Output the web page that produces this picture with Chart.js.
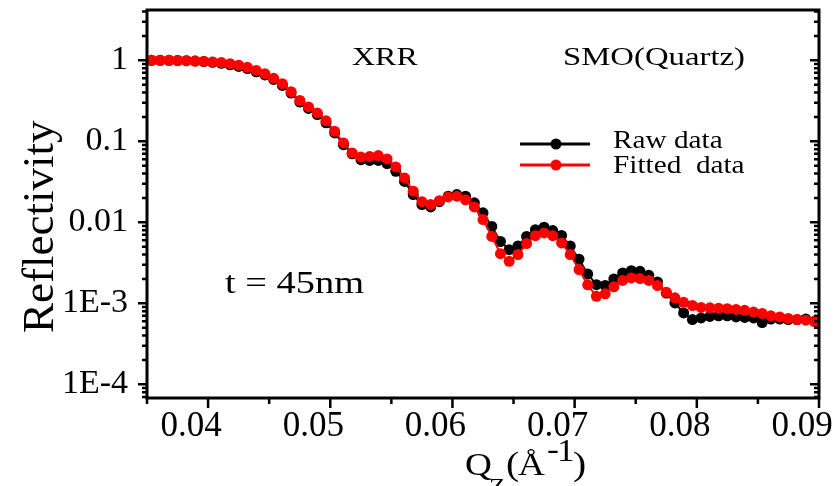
<!DOCTYPE html>
<html>
<head>
<meta charset="utf-8">
<script src="https://cdn.jsdelivr.net/npm/chart.js@4.4.1/dist/chart.umd.min.js"></script>
<style>
  html, body { margin: 0; padding: 0; background: #fff; }
  canvas { display: block; }
</style>
</head>
<body>
<canvas id="xrrChart" width="839" height="486"></canvas>
<script>
// XRR reflectivity: raw vs fitted

const qValues = [0.03537, 0.03608, 0.03680, 0.03751, 0.03823, 0.03894, 0.03965, 0.04037, 0.04108, 0.04180,
  0.04251, 0.04322, 0.04394, 0.04465, 0.04537, 0.04608, 0.04679, 0.04751, 0.04822, 0.04894,
  0.04965, 0.05036, 0.05108, 0.05179, 0.05251, 0.05322, 0.05393, 0.05465, 0.05536, 0.05608,
  0.05679, 0.05750, 0.05822, 0.05893, 0.05965, 0.06036, 0.06107, 0.06179, 0.06250, 0.06322,
  0.06393, 0.06464, 0.06536, 0.06607, 0.06679, 0.06750, 0.06821, 0.06893, 0.06964, 0.07036,
  0.07107, 0.07178, 0.07250, 0.07321, 0.07393, 0.07464, 0.07535, 0.07607, 0.07678, 0.07750,
  0.07821, 0.07892, 0.07964, 0.08035, 0.08107, 0.08178, 0.08249, 0.08321, 0.08392, 0.08464,
  0.08535, 0.08606, 0.08678, 0.08749, 0.08821, 0.08892, 0.08963];

const rawData = [1.0, 1.0, 1.0, 0.995, 0.99, 0.98, 0.965, 0.945, 0.92, 0.88,
  0.84, 0.79, 0.72, 0.66, 0.58, 0.49, 0.395, 0.305, 0.255, 0.214,
  0.169, 0.127, 0.091, 0.070, 0.0594, 0.058, 0.058, 0.053, 0.0426, 0.032,
  0.022, 0.0166, 0.0155, 0.018, 0.021, 0.022, 0.021, 0.0174, 0.0131, 0.0089,
  0.0058, 0.0046, 0.0051, 0.0067, 0.0081, 0.0087, 0.0079, 0.0069, 0.0051, 0.0035,
  0.0023, 0.0017, 0.00166, 0.0020, 0.00237, 0.00253, 0.00248, 0.00222, 0.00184, 0.00134,
  0.00101, 0.00076, 0.00063, 0.00066, 0.00069, 0.0007, 0.0007, 0.00068, 0.00067, 0.00066,
  0.00058, 0.00064, 0.00064, 0.00063, 0.00063, 0.00064, 0.0006];

const fitData = [1.0, 1.0, 1.0, 0.995, 0.99, 0.98, 0.97, 0.955, 0.937, 0.91,
  0.87, 0.82, 0.75, 0.685, 0.60, 0.515, 0.41, 0.32, 0.266, 0.224,
  0.180, 0.133, 0.0955, 0.072, 0.064, 0.065, 0.0666, 0.0607, 0.0483, 0.0353,
  0.0242, 0.018, 0.0166, 0.0185, 0.0206, 0.021, 0.019, 0.0155, 0.0108, 0.0067,
  0.0041, 0.0033, 0.0040, 0.00546, 0.00685, 0.0074, 0.00685, 0.00557, 0.0040, 0.0026,
  0.00169, 0.00122, 0.00131, 0.0016, 0.00192, 0.00206, 0.00202, 0.00192, 0.00166, 0.00137,
  0.00117, 0.00103, 0.00094, 0.00089, 0.00088, 0.00087, 0.00086, 0.00084, 0.00082, 0.00078,
  0.00075, 0.0007, 0.00068, 0.00065, 0.00063, 0.00062, 0.0006];

const xMajorTicks = [0.04, 0.05, 0.06, 0.07, 0.08, 0.09];
const xTickLabels = ["0.04", "0.05", "0.06", "0.07", "0.08", "0.09"];
const xMinorTicks = [0.035, 0.045, 0.055, 0.065, 0.075, 0.085];
const yMajorTicks = [1e-4, 1e-3, 0.01, 0.1, 1];
const yTickLabels = ["1E-4", "1E-3", "0.01", "0.1", "1"];

const serif = "'Liberation Serif', 'Times New Roman', serif";

function stretchText(ctx, str, x, y, size, sx) {
  ctx.save();
  ctx.font = size + "px " + serif;
  ctx.translate(x, y);
  ctx.scale(sx, 1);
  ctx.fillText(str, 0, 0);
  ctx.restore();
}

// frame, tick marks and all the free text
const decorPlugin = {
  id: "decor",
  afterDraw(chart) {
    const ctx = chart.ctx;
    const area = chart.chartArea;
    const xs = chart.scales.x;
    const ys = chart.scales.y;
    ctx.save();
    ctx.strokeStyle = "#000";
    ctx.lineCap = "butt";

    // ticks
    ctx.lineWidth = 2.5;
    ctx.beginPath();
    xMajorTicks.forEach(v => {
      const px = xs.getPixelForValue(v);
      ctx.moveTo(px, area.bottom); ctx.lineTo(px, area.bottom + 10);
    });
    xMinorTicks.forEach(v => {
      const px = xs.getPixelForValue(v);
      ctx.moveTo(px, area.bottom); ctx.lineTo(px, area.bottom + 6);
    });
    for (let e = -5; e <= 0; e++) {
      for (let k = 1; k <= 9; k++) {
        const v = k * Math.pow(10, e);
        if (v < ys.min || v > ys.max) continue;
        const py = ys.getPixelForValue(v);
        const len = k === 1 ? 9 : 5;
        ctx.moveTo(area.left, py); ctx.lineTo(area.left - len, py);
        ctx.moveTo(area.right, py); ctx.lineTo(area.right - len, py);
      }
    }
    ctx.stroke();

    // frame
    ctx.lineWidth = 3;
    ctx.strokeRect(area.left, area.top, area.right - area.left, area.bottom - area.top);

    // legend
    ctx.lineWidth = 3;
    [["#000", 144], ["#ff0000", 165]].forEach(([col, ly]) => {
      ctx.strokeStyle = col;
      ctx.fillStyle = col;
      ctx.beginPath();
      ctx.moveTo(520, ly); ctx.lineTo(590, ly);
      ctx.stroke();
      ctx.beginPath();
      ctx.arc(556, ly, 5.5, 0, Math.PI * 2);
      ctx.fill();
    });

    ctx.fillStyle = "#000";
    ctx.textAlign = "left";
    ctx.textBaseline = "alphabetic";
    stretchText(ctx, "Raw data", 613, 148, 25, 1.17);
    stretchText(ctx, "Fitted  data", 613, 173, 25, 1.17);

    // annotations
    stretchText(ctx, "XRR", 352, 65, 25, 1.28);
    stretchText(ctx, "SMO(Quartz)", 563, 65, 26, 1.26);
    stretchText(ctx, "t = 45nm", 225, 293, 32, 1.2);

    // x axis title
    stretchText(ctx, "Q", 465, 475, 31, 1.2);
    stretchText(ctx, "Z", 489, 494, 24, 1.1);
    stretchText(ctx, "(", 506, 475, 33, 1.2);
    stretchText(ctx, "Å", 518, 475, 31, 1.2);
    stretchText(ctx, "-", 547, 459, 30, 1.2);
    stretchText(ctx, "1", 557, 461, 32, 1.1);
    stretchText(ctx, ")", 573, 475, 33, 1.2);

    // y axis title
    ctx.save();
    ctx.translate(53, 333);
    ctx.rotate(-Math.PI / 2);
    ctx.font = "45px " + serif;
    ctx.fillText("Reflectivity", 0, 0);
    ctx.restore();

    ctx.restore();
  }
};

const ctx = document.getElementById("xrrChart").getContext("2d");
const xrrChart = new Chart(ctx, {
  type: "line",
  data: {
    datasets: [
      {
        label: "Fitted data",
        data: qValues.map((q, i) => ({ x: q, y: fitData[i] })),
        borderColor: "#ff0000",
        backgroundColor: "#ff0000",
        borderWidth: 2,
        pointRadius: 5.5,
        pointBorderWidth: 0,
        order: 0
      },
      {
        label: "Raw data",
        data: qValues.map((q, i) => ({ x: q, y: rawData[i] })),
        borderColor: "#000",
        backgroundColor: "#000",
        borderWidth: 2,
        pointRadius: 5.5,
        pointBorderWidth: 0,
        order: 1
      }
    ]
  },
  options: {
    responsive: false,
    animation: false,
    devicePixelRatio: 1,
    layout: { padding: { top: 10, right: 20, left: 0, bottom: 0 } },
    plugins: {
      legend: { display: false },
      tooltip: { enabled: false }
    },
    scales: {
      x: {
        type: "linear",
        min: 0.035,
        max: 0.09,
        afterBuildTicks: s => { s.ticks = xMajorTicks.map(v => ({ value: v })); },
        afterFit: s => {
          s.height = 88;
          s.paddingLeft = 0; s.paddingRight = 0;
        },
        grid: { display: false, drawTicks: false },
        border: { display: false },
        ticks: {
          autoSkip: false,
          maxRotation: 0,
          padding: 8,
          labelOffset: -17,
          color: "#000",
          font: { family: serif, size: 35 },
          callback: (v, i) => xTickLabels[i]
        }
      },
      y: {
        type: "logarithmic",
        min: 6.78e-5,
        max: 4.18,
        afterBuildTicks: s => { s.ticks = yMajorTicks.map(v => ({ value: v })); },
        afterFit: s => {
          s.width = 147;
          s.paddingTop = 0; s.paddingBottom = 0;
        },
        grid: { display: false, drawTicks: false },
        border: { display: false },
        ticks: {
          autoSkip: false,
          padding: 19,
          color: "#000",
          font: { family: serif, size: 34 },
          callback: (v, i) => yTickLabels[i]
        }
      }
    }
  },
  plugins: [decorPlugin]
});
</script>
</body>
</html>
